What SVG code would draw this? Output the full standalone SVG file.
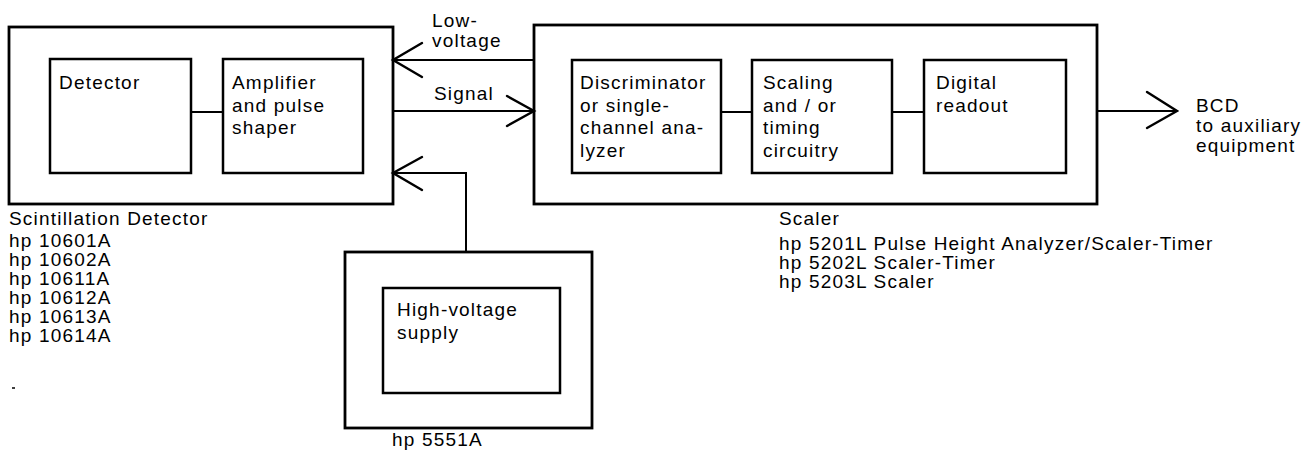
<svg xmlns="http://www.w3.org/2000/svg" width="1311" height="450" viewBox="0 0 1311 450">
<style>
.box{fill:none;stroke:#000;stroke-width:2.8}
.inner{fill:none;stroke:#000;stroke-width:2.5}
.ln{fill:none;stroke:#000;stroke-width:2}
.ah{fill:none;stroke:#000;stroke-width:2.4;stroke-linecap:round;stroke-linejoin:miter}
text{font-family:"Liberation Sans",Arial,sans-serif;font-size:19px;letter-spacing:1.2px;fill:#000}
</style>
<rect width="1311" height="450" fill="#fff"/>
<g id="scintillation-detector">
<rect class="box" x="9" y="27" width="384" height="177"/>
<text x="9" y="225">Scintillation Detector</text>
<text x="9" y="247">hp 10601A</text>
<text x="9" y="266">hp 10602A</text>
<text x="9" y="285">hp 10611A</text>
<text x="9" y="304">hp 10612A</text>
<text x="9" y="323">hp 10613A</text>
<text x="9" y="342">hp 10614A</text>
</g>
<g id="detector">
<rect class="inner" x="50" y="59" width="141" height="114"/>
<text x="59" y="89">Detector</text>
</g>
<g id="amplifier">
<rect class="inner" x="223" y="59" width="140" height="114"/>
<text x="232" y="89">Amplifier</text>
<text x="232" y="111.5">and pulse</text>
<text x="232" y="134">shaper</text>
</g>
<g id="scaler">
<rect class="box" x="534" y="25" width="563" height="179"/>
<text x="779" y="225">Scaler</text>
<text x="779" y="250">hp 5201L Pulse Height Analyzer/Scaler-Timer</text>
<text x="779" y="269">hp 5202L Scaler-Timer</text>
<text x="779" y="288">hp 5203L Scaler</text>
</g>
<g id="discriminator">
<rect class="inner" x="572" y="60" width="149" height="113"/>
<text x="580" y="89">Discriminator</text>
<text x="580" y="111.5">or single-</text>
<text x="580" y="134">channel ana-</text>
<text x="580" y="156.5">lyzer</text>
</g>
<g id="scaling">
<rect class="inner" x="752" y="60" width="140" height="113"/>
<text x="763" y="89">Scaling</text>
<text x="763" y="111.5">and / or</text>
<text x="763" y="134">timing</text>
<text x="763" y="156.5">circuitry</text>
</g>
<g id="digital-readout">
<rect class="inner" x="924" y="60" width="142" height="113"/>
<text x="936" y="89">Digital</text>
<text x="936" y="111.5">readout</text>
</g>
<g id="hv-supply">
<rect class="box" x="345" y="252" width="247" height="176"/>
<rect class="inner" x="383" y="288" width="177" height="105"/>
<text x="397" y="316">High-voltage</text>
<text x="397" y="339">supply</text>
<text x="392" y="446">hp 5551A</text>
</g>
<g id="connectors">
<line class="ln" x1="191" y1="112" x2="223" y2="112"/>
<line class="ln" x1="721" y1="112" x2="752" y2="112"/>
<line class="ln" x1="892" y1="112" x2="924" y2="112"/>
<line class="ln" x1="393" y1="60" x2="534" y2="60"/>
<polyline class="ah" points="422,43 393,60 422,77"/>
<line class="ln" x1="393" y1="111" x2="534" y2="111"/>
<polyline class="ah" points="507,96 534,111 507,126"/>
<polyline class="ln" points="393,173 466,173 466,252"/>
<polyline class="ah" points="422,157 393,173 422,190"/>
<line class="ln" x1="1097" y1="111" x2="1177" y2="111"/>
<polyline class="ah" points="1147,92 1177,111 1147,128"/>
<text x="432" y="27">Low-</text>
<text x="432" y="47">voltage</text>
<text x="434" y="100">Signal</text>
<text x="1196" y="112">BCD</text>
<text x="1196" y="132">to auxiliary</text>
<text x="1196" y="152">equipment</text>
</g>
<line x1="12" y1="388" x2="15" y2="388" stroke="#000" stroke-width="1.5"/>
</svg>
